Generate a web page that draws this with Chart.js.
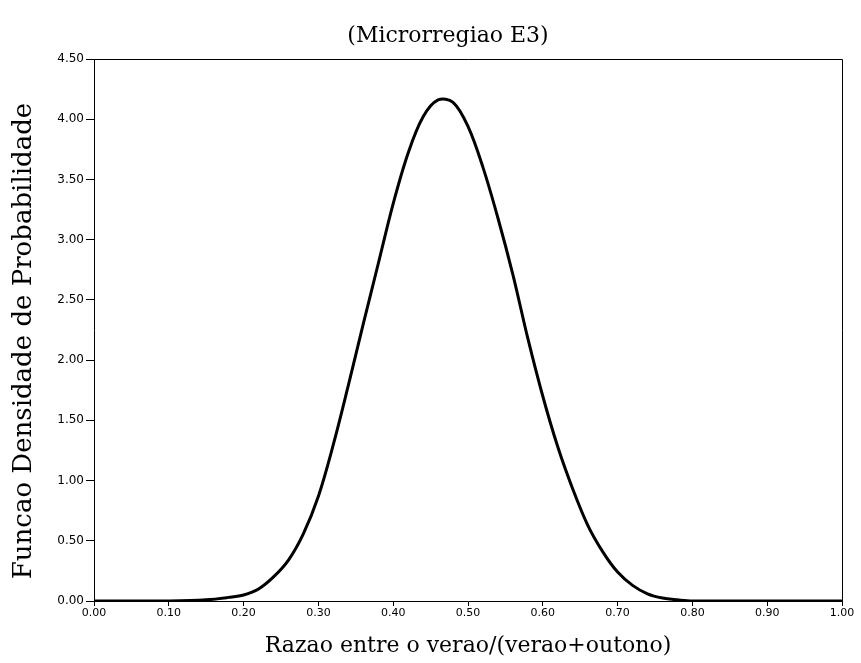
<!DOCTYPE html>
<html>
<head>
<meta charset="utf-8">
<script src="https://cdn.jsdelivr.net/npm/chart.js@4.4.1/dist/chart.umd.min.js"></script>
<style>
  html, body { margin: 0; padding: 0; background: #fff; }
  #wrap { width: 861px; height: 663px; }
</style>
</head>
<body>
<div id="wrap"><canvas id="c" width="861" height="663"></canvas></div>
<script>
// ---- data ----
const chartTitle = "(Microrregiao E3)";
const xAxisTitle = "Razao entre o verao/(verao+outono)";
const yAxisTitle = "Funcao Densidade de Probabilidade";

const ratioValues = [0.00, 0.05, 0.10, 0.15, 0.18, 0.20, 0.22, 0.24, 0.26, 0.28,
                     0.30, 0.32, 0.34, 0.36, 0.38, 0.40, 0.42, 0.44, 0.46,
                     0.48, 0.50, 0.52, 0.54, 0.56, 0.58, 0.60, 0.62, 0.64, 0.66,
                     0.68, 0.70, 0.72, 0.74, 0.76, 0.78, 0.80, 0.90, 1.00];
const densityValues = [0.00, 0.00, 0.00, 0.01, 0.03, 0.05, 0.10, 0.20, 0.34, 0.56,
                       0.87, 1.30, 1.79, 2.30, 2.80, 3.30, 3.72, 4.02, 4.16,
                       4.14, 3.94, 3.60, 3.18, 2.71, 2.18, 1.70, 1.28, 0.93, 0.63,
                       0.41, 0.24, 0.13, 0.06, 0.025, 0.01, 0.00, 0.00, 0.00];

const xTickMin = 0, xTickMax = 1.0, xTickStep = 0.1;
const yTickMin = 0, yTickMax = 4.5, yTickStep = 0.5;

const points = ratioValues.map((x, i) => ({ x: x, y: densityValues[i] }));

const frameAndTitles = {
  id: 'frameAndTitles',
  afterDraw(chart) {
    const { ctx, chartArea } = chart;
    ctx.save();
    ctx.strokeStyle = '#000';
    ctx.lineWidth = 1;
    ctx.beginPath();
    ctx.moveTo(chartArea.left, chartArea.top + 0.5);
    ctx.lineTo(chartArea.right + 0.5, chartArea.top + 0.5);
    ctx.lineTo(chartArea.right + 0.5, chartArea.bottom);
    ctx.stroke();
    ctx.fillStyle = '#000';
    ctx.font = '22px "DejaVu Serif"';
    ctx.textAlign = 'center';
    ctx.textBaseline = 'alphabetic';
    ctx.fillText(chartTitle, (chartArea.left + chartArea.right) / 2 - 20, 42);
    // y axis title
    ctx.font = '26px "DejaVu Serif"';
    ctx.textBaseline = 'middle';
    ctx.translate(24, (chartArea.top + chartArea.bottom) / 2 + 11);
    ctx.rotate(-Math.PI / 2);
    ctx.fillText(yAxisTitle, 0, 0);
    ctx.restore();
  }
};

new Chart(document.getElementById('c'), {
  type: 'line',
  data: {
    datasets: [{
      data: points,
      borderColor: '#000',
      borderWidth: 3,
      pointRadius: 0,
      fill: false,
      tension: 0.35
    }]
  },
  options: {
    responsive: false,
    animation: false,
    devicePixelRatio: 1,
    layout: { padding: { top: 59, right: 19, left: 0, bottom: 0 } },
    plugins: { legend: { display: false }, tooltip: { enabled: false }, title: { display: false } },
    scales: {
      x: {
        type: 'linear',
        min: xTickMin, max: xTickMax,
        afterFit(scale) { scale.height = 62; },
        ticks: {
          stepSize: xTickStep,
          color: '#000',
          padding: 1,
          maxRotation: 0,
          font: { family: 'DejaVu Sans', size: 11 },
          callback: v => Number(v).toFixed(2)
        },
        grid: { drawOnChartArea: false, drawTicks: true, tickLength: 5, color: '#000' },
        border: { display: true, color: '#000', width: 1 },
        title: {
          display: true, text: xAxisTitle, color: '#000',
          font: { family: 'DejaVu Serif', size: 22 },
          padding: { top: 0, bottom: 4 }
        }
      },
      y: {
        type: 'linear',
        min: yTickMin, max: yTickMax,
        afterFit(scale) { scale.width = 94; },
        ticks: {
          stepSize: yTickStep,
          color: '#000',
          padding: 2,
          font: { family: 'DejaVu Sans', size: 12 },
          callback: v => Number(v).toFixed(2)
        },
        grid: { drawOnChartArea: false, drawTicks: true, tickLength: 8, color: '#000' },
        border: { display: true, color: '#000', width: 1 },
        title: { display: false }
      }
    }
  },
  plugins: [frameAndTitles]
});
</script>
</body>
</html>
